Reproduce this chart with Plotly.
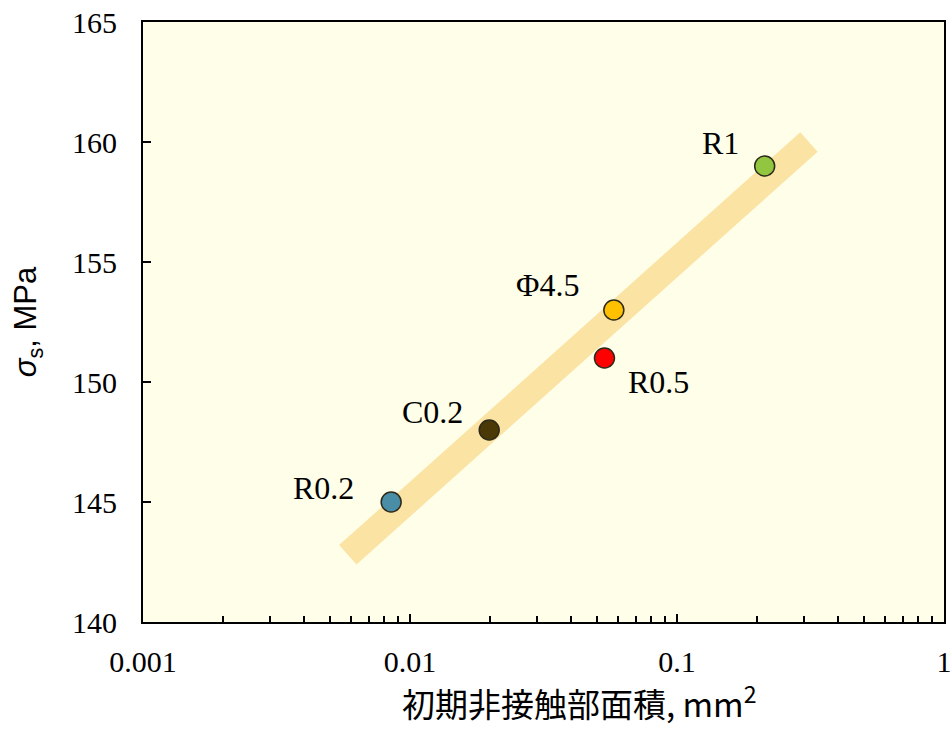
import math
import plotly.graph_objects as go

# Specimen data: initial non-contact area (mm^2) vs. yield stress (MPa)
labels = ["R0.2", "C0.2", "R0.5", "Φ4.5", "R1"]
area_mm2 = [0.0085, 0.0198, 0.0535, 0.058, 0.213]
sigma_mpa = [145, 148, 151, 153, 159]
colors = ["#4A8DA6", "#4A3806", "#FF0000", "#FFC000", "#92C640"]
label_dx = [-68, -57, 54, -66, -44]
label_dy = [14, 18, -24, 25, 23]

# Trend band endpoints
trend_x = [0.00585, 0.312]
trend_y = [142.8, 160.0]

x_ticks = [0.001, 0.01, 0.1, 1]
x_ticktext = ["0.001", "0.01", "0.1", "1"]
y_ticks = [140, 145, 150, 155, 160, 165]

minor_x = [m * d for d in (0.001, 0.01, 0.1) for m in range(2, 10)]

fig = go.Figure()

fig.add_trace(go.Scatter(
    x=trend_x, y=trend_y, mode="lines",
    line=dict(color="#FBE3A4", width=26),
    hoverinfo="skip", showlegend=False,
))

fig.add_trace(go.Scatter(
    x=area_mm2, y=sigma_mpa, mode="markers",
    marker=dict(size=20, color=colors, line=dict(color="#2E2A1A", width=1.5)),
    showlegend=False,
))

# Annotations on a log axis take log10 positions
for lab, xv, yv, dx, dy in zip(labels, area_mm2, sigma_mpa, label_dx, label_dy):
    fig.add_annotation(
        x=math.log10(xv), y=yv, text=lab, showarrow=False,
        xshift=dx, yshift=dy,
        font=dict(family="Liberation Serif", size=32, color="black"),
    )

# X axis title, set slightly right of the plot centre
fig.add_annotation(
    xref="paper", yref="paper", x=0.545, y=-0.133,
    xanchor="center", yanchor="middle", showarrow=False,
    text="初期非接触部面積, mm<sup>2</sup>",
    font=dict(family="Noto Sans CJK JP", size=33, color="black"),
)

axis_common = dict(
    showline=True, linecolor="black", linewidth=2, mirror=True,
    ticks="inside", tickcolor="black", tickwidth=1.5, ticklen=8,
    showgrid=False, zeroline=False, automargin=False,
    tickfont=dict(family="Liberation Serif", size=30, color="black"),
)

fig.update_xaxes(
    type="log", range=[-3, 0],
    tickmode="array", tickvals=x_ticks, ticktext=x_ticktext,
    ticklabelstandoff=12,
    minor=dict(ticks="inside", tickvals=minor_x, ticklen=6,
               tickcolor="black", tickwidth=1.5),
    **axis_common,
)

fig.update_yaxes(
    range=[140, 165], tickmode="array", tickvals=y_ticks,
    ticklabelstandoff=18,
    title=dict(text="<i>σ</i><sub>s</sub>, MPa",
               font=dict(family="Liberation Sans", size=31, color="black"),
               standoff=26),
    **axis_common,
)

fig.update_layout(
    width=952, height=729,
    margin=dict(l=143, r=8, t=22, b=107),
    paper_bgcolor="white", plot_bgcolor="#FFFEE8",
)

fig.write_html("out.html")
